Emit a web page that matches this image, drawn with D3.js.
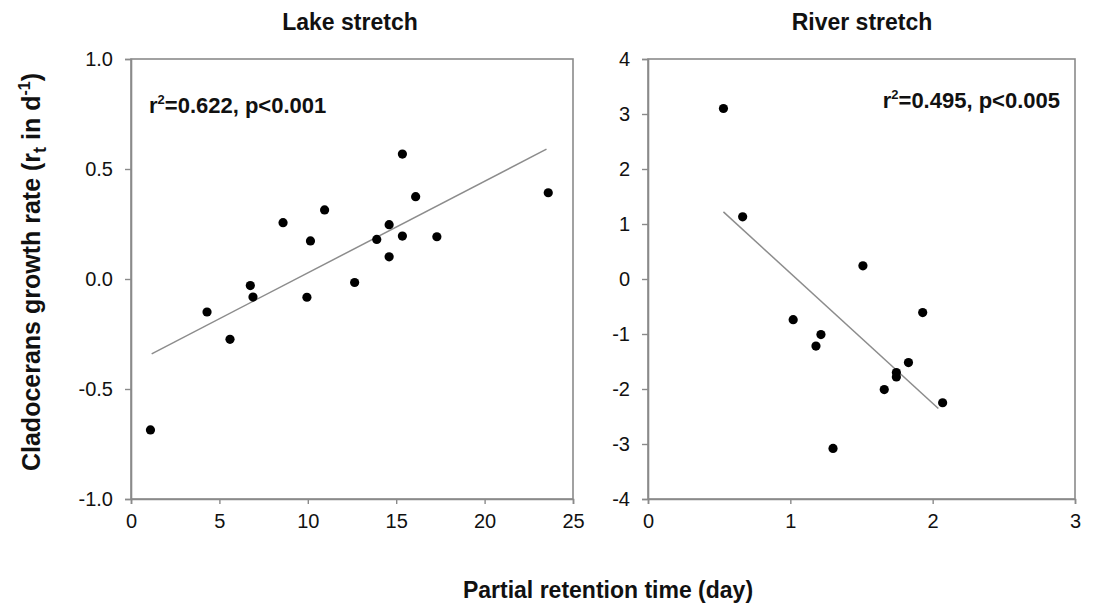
<!DOCTYPE html>
<html>
<head>
<meta charset="utf-8">
<script src="https://cdn.jsdelivr.net/npm/d3@7"></script>
<style>
  body { margin: 0; background: #fff; }
  svg { display: block; font-family: "Liberation Sans", Arial, sans-serif; }
</style>
</head>
<body>
<svg></svg>
<script>
// lake stretch data
var lakeX = [1.1, 4.3, 5.6, 6.75, 6.9, 8.6, 9.95, 10.15, 10.95, 12.65, 13.9, 14.6, 14.6, 15.35, 15.35, 16.1, 17.3, 23.6];
var lakeY = [-0.686, -0.15, -0.274, -0.03, -0.082, 0.256, -0.083, 0.173, 0.314, -0.016, 0.18, 0.247, 0.101, 0.568, 0.195, 0.374, 0.192, 0.392];
var lakeFit = [[1.17, -0.34], [23.5, 0.59]];
var lakeXTicks = [0, 5, 10, 15, 20, 25];
var lakeYTicks = [-1.0, -0.5, 0.0, 0.5, 1.0];

// river stretch data
var riverX = [0.53, 0.665, 1.02, 1.18, 1.215, 1.30, 1.51, 1.66, 1.745, 1.745, 1.83, 1.93, 2.07];
var riverY = [3.10, 1.13, -0.74, -1.22, -1.01, -3.08, 0.24, -2.01, -1.70, -1.78, -1.52, -0.61, -2.25];
var riverFit = [[0.53, 1.22], [2.04, -2.355]];
var riverXTicks = [0, 1, 2, 3];
var riverYTicks = [-4, -3, -2, -1, 0, 1, 2, 3, 4];

var svg = d3.select('svg')
    .attr('width', 1108)
    .attr('height', 608);

svg.append('rect')
    .attr('width', 1108)
    .attr('height', 608)
    .attr('fill', '#fff');

var plotTop = 59, plotBottom = 499;

// plain hyphen instead of d3's unicode minus
function hyphen(f) {
    return function (d) { return f(d).replace('\u2212', '-'); };
}

function panel(opt) {
    var x = d3.scaleLinear().domain(opt.xd).range([opt.left, opt.right]);
    var y = d3.scaleLinear().domain(opt.yd).range([plotBottom, plotTop]);
    var g = svg.append('g');

    // frame
    g.append('rect')
        .attr('x', opt.left)
        .attr('y', plotTop)
        .attr('width', opt.right - opt.left)
        .attr('height', plotBottom - plotTop)
        .attr('fill', 'none')
        .attr('stroke', '#8a8a8a')
        .attr('stroke-width', 1.6);

    var ax = g.append('g')
        .attr('transform', 'translate(0,' + plotBottom + ')')
        .call(d3.axisBottom(x).tickValues(opt.xt).tickSize(5).tickPadding(10).tickFormat(d3.format('d')));
    var ay = g.append('g')
        .attr('transform', 'translate(' + opt.left + ',0)')
        .call(d3.axisLeft(y).tickValues(opt.yt).tickSize(6).tickPadding(12).tickFormat(hyphen(opt.yf)));

    [ax, ay].forEach(function (a) {
        a.select('.domain').attr('stroke', '#8a8a8a').attr('stroke-width', 1.6);
        a.selectAll('.tick line').attr('stroke', '#8a8a8a').attr('stroke-width', 1.4);
        a.selectAll('.tick text')
            .attr('fill', '#111')
            .style('font-family', '"Liberation Sans", Arial, sans-serif')
            .style('font-size', '20px');
    });

    // regression line
    g.append('line')
        .attr('x1', x(opt.fit[0][0]))
        .attr('y1', y(opt.fit[0][1]))
        .attr('x2', x(opt.fit[1][0]))
        .attr('y2', y(opt.fit[1][1]))
        .attr('stroke', '#8c8c8c')
        .attr('stroke-width', 1.5);

    g.selectAll('circle')
        .data(opt.xs.map(function (d, i) { return [d, opt.ys[i]]; }))
        .enter().append('circle')
        .attr('cx', function (d) { return x(d[0]); })
        .attr('cy', function (d) { return y(d[1]); })
        .attr('r', 4.6)
        .attr('fill', '#000');

    // title
    g.append('text')
        .attr('x', opt.tx)
        .attr('y', 30)
        .attr('text-anchor', 'middle')
        .style('font-weight', 'bold')
        .style('font-size', '23px')
        .attr('fill', '#111')
        .text(opt.title);

    // statistics
    var st = g.append('text')
        .attr('x', opt.sx)
        .attr('y', opt.sy)
        .attr('text-anchor', opt.sa)
        .style('font-weight', 'bold')
        .style('font-size', '22px')
        .attr('fill', '#111');
    st.append('tspan').text('r');
    st.append('tspan').attr('dy', -9).style('font-size', '13px').text('2');
    st.append('tspan').attr('dy', 9).text(opt.stat);
}

panel({
    left: 131, right: 573,
    xd: [0, 25], yd: [-1, 1],
    xt: lakeXTicks, yt: lakeYTicks,
    yf: d3.format('.1f'),
    xs: lakeX, ys: lakeY, fit: lakeFit,
    title: 'Lake stretch', tx: 350,
    sx: 149, sy: 113, sa: 'start', stat: '=0.622, p<0.001'
});

panel({
    left: 648, right: 1075,
    xd: [0, 3], yd: [-4, 4],
    xt: riverXTicks, yt: riverYTicks,
    yf: d3.format('d'),
    xs: riverX, ys: riverY, fit: riverFit,
    title: 'River stretch', tx: 862,
    sx: 1060, sy: 108, sa: 'end', stat: '=0.495, p<0.005'
});

// y axis label
var yl = svg.append('text')
    .attr('transform', 'translate(40,272) rotate(-90)')
    .attr('text-anchor', 'middle')
    .style('font-weight', 'bold')
    .style('font-size', '25px')
    .attr('fill', '#111');
yl.append('tspan').text('Cladocerans growth rate (r');
yl.append('tspan').attr('dy', 6).style('font-size', '18px').text('t');
yl.append('tspan').attr('dy', -6).text(' in d');
yl.append('tspan').attr('dy', -10).style('font-size', '16px').text('-1');
yl.append('tspan').attr('dy', 10).text(')');

// x axis label
svg.append('text')
    .attr('x', 608)
    .attr('y', 598)
    .attr('text-anchor', 'middle')
    .style('font-weight', 'bold')
    .style('font-size', '23px')
    .attr('fill', '#111')
    .text('Partial retention time (day)');
</script>
</body>
</html>
